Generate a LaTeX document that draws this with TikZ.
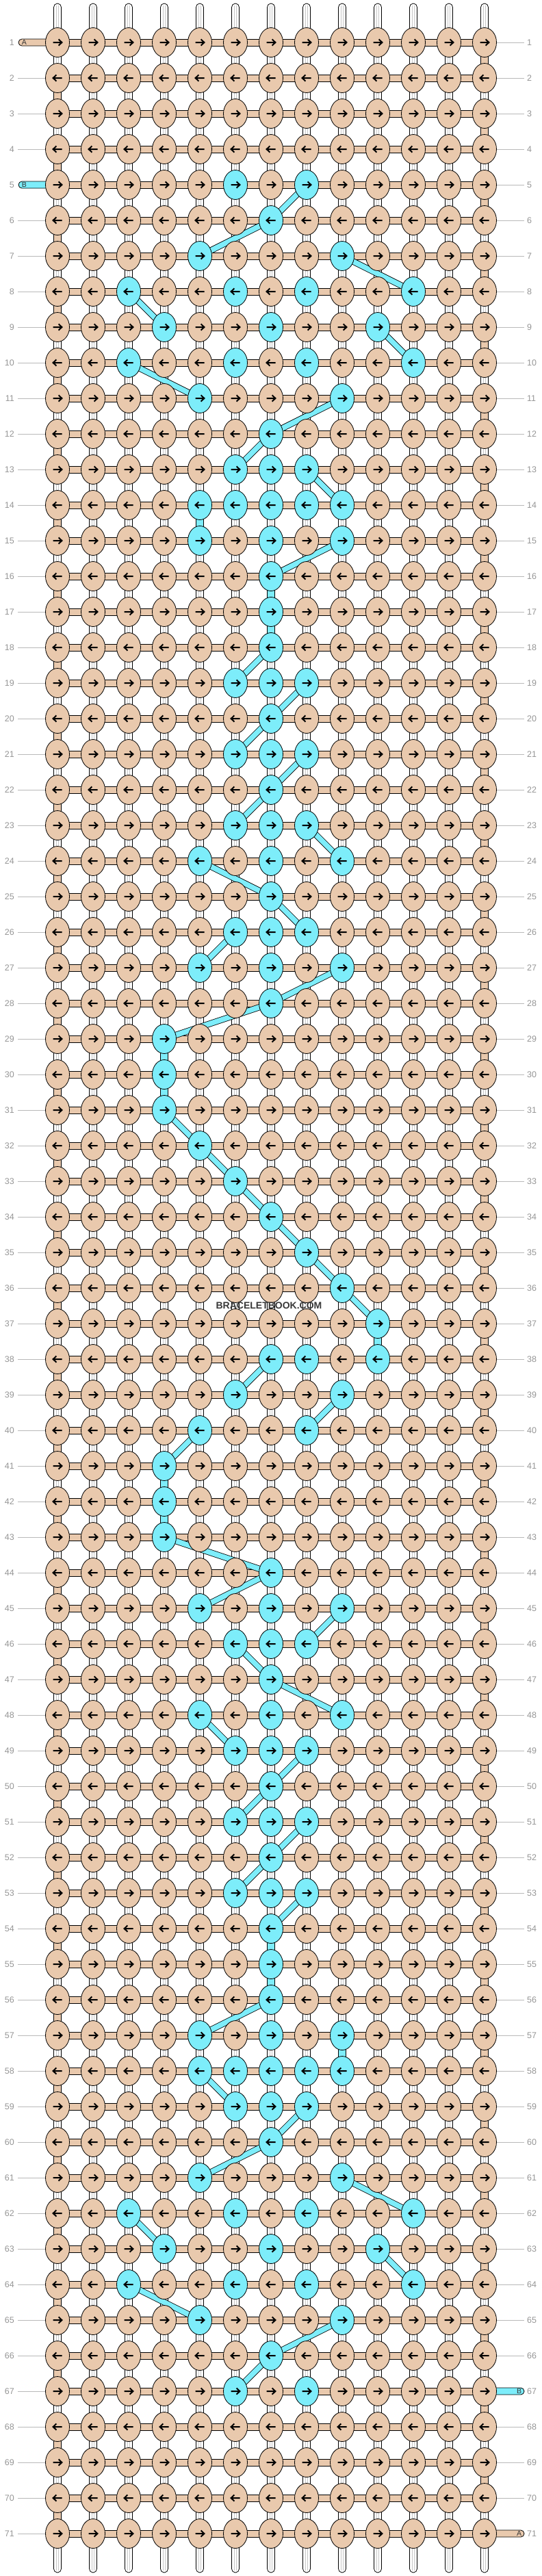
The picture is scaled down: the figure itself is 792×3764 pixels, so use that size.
\documentclass[tikz,border=0pt]{standalone}
\usepackage{fontspec}
\setmainfont{Liberation Sans}
\usetikzlibrary{shapes.geometric}
\definecolor{ktan}{RGB}{233,201,173}
\definecolor{kblue}{RGB}{125,237,250}
\definecolor{lblgray}{RGB}{150,150,150}
\definecolor{lnegray}{RGB}{185,185,185}
\pgfdeclarelayer{paper}
\pgfdeclarelayer{threads}
\pgfdeclarelayer{bars}
\pgfdeclarelayer{links}
\pgfsetlayers{paper,threads,bars,links,main}
\begin{document}
\begin{tikzpicture}[x=1pt,y=-1pt,
  knot/.style={ellipse,draw=black,line width=0.8,minimum width=35,minimum height=43,inner sep=0},
  arr/.style={line width=2,line cap=butt,line join=miter,draw=black},
  hbar/.style={draw=black,line width=0.8,fill=ktan},
  bbar/.style={draw=black,line width=0.8,fill=kblue},
  wthread/.style={draw=black,line width=0.8,fill=white},
  wline/.style={draw=gray!45,line width=0.7},
  bconn/.style={draw=black,line width=0.8,double=kblue,double distance=7.6},
  lbl/.style={inner sep=0,text=lblgray,font=\fontsize{12.5}{14}\selectfont},
  lline/.style={draw=lnegray,line width=1},
  stubtxt/.style={inner sep=0,text=black!80,font=\fontsize{10.5}{12}\selectfont},
  wmark/.style={inner sep=0,text=black!78,font=\bfseries\fontsize{14}{16}\selectfont}]
\useasboundingbox (0,0) rectangle (792,3764);
\begin{pgfonlayer}{paper}
\fill[white] (0,0) rectangle (792,3764);
\end{pgfonlayer}
% blue knots
\foreach \r/\c in {5/5,5/7,6/6,7/4,7/8,8/2,8/5,8/7,8/10,9/3,9/6,9/9,10/2,10/5,10/7,10/10,11/4,11/8,12/6,13/5,13/6,13/7,14/4,14/5,14/6,14/7,14/8,15/4,15/6,15/8,16/6,17/6,18/6,19/5,19/6,19/7,20/6,21/5,21/6,21/7,22/6,23/5,23/6,23/7,24/4,24/6,24/8,25/6,26/5,26/6,26/7,27/4,27/6,27/8,28/6,29/3,30/3,31/3,32/4,33/5,34/6,35/7,36/8,37/9,38/6,38/7,38/9,39/5,39/8,40/4,40/7,41/3,42/3,43/3,44/6,45/4,45/6,45/8,46/5,46/6,46/7,47/6,48/4,48/6,48/8,49/5,49/6,49/7,50/6,51/5,51/6,51/7,52/6,53/5,53/6,53/7,54/6,55/6,56/6,57/4,57/6,57/8,58/4,58/5,58/6,58/7,58/8,59/5,59/6,59/7,60/6,61/4,61/8,62/2,62/5,62/7,62/10,63/3,63/6,63/9,64/2,64/5,64/7,64/10,65/4,65/8,66/6,67/5,67/7}
  {\expandafter\gdef\csname bk\r-\c\endcsname{1}}
% knots
\foreach \r in {1,...,71}{
  \foreach \c in {0,...,12}{
    \ifcsname bk\r-\c\endcsname\def\kf{kblue}\else\def\kf{ktan}\fi
    \node[knot,fill=\kf] (k-\r-\c) at ({84+52*\c},{62+52*(\r-1)}) {};
    \ifodd\r\relax\def\sg{1}\else\def\sg{-1}\fi
    \begin{scope}[shift={(k-\r-\c.center)},xscale=\sg]
      \draw[arr] (-6.5,0)--(5.5,0) (1.6,-4.6)--(6.4,0)--(1.6,4.6);
    \end{scope}
  }
}
% row labels
\foreach \r in {1,...,71}{
  \node[lbl,anchor=east] (ll-\r) at (21,{62+52*(\r-1)}) {\r};
  \node[lbl,anchor=west] (lr-\r) at (770,{62+52*(\r-1)}) {\r};
}
% watermark
\node[wmark] (wm) at (393,1907.5) {BRACELETBOOK.COM};
% stub labels
\node[stubtxt] (sA1) at (35.5,62) {A};
\node[stubtxt] (sB1) at (35.5,270) {B};
\node[stubtxt] (sB2) at (758.5,3494) {B};
\node[stubtxt] (sA2) at (758.5,3702) {A};
% vertical warp threads
\begin{pgfonlayer}{threads}
\foreach \c in {0,...,12}{
  \coordinate (t-\c) at ({84+52*\c},5);
  \coordinate (b-\c) at ({84+52*\c},3759);
  \draw[wthread,rounded corners=5.5] ([xshift=-5.5]t-\c) rectangle ([xshift=5.5]b-\c);
  \draw[wline] ([shift={(-1.6,3)}]t-\c) -- ([shift={(-1.6,-3)}]b-\c);
  \draw[wline] ([shift={(1.6,3)}]t-\c) -- ([shift={(1.6,-3)}]b-\c);
}
\end{pgfonlayer}
\begin{pgfonlayer}{bars}
% horizontal working thread
\foreach \r in {1,...,71}{
  \draw[hbar] ([yshift=-5]k-\r-0.center) rectangle ([yshift=5]k-\r-12.center);
}
% turns at the edges
\foreach \r [evaluate=\r as \rr using int(\r+1)] in {2,4,...,70}{
  \draw[hbar] ([xshift=-5.5]k-\r-0.center) rectangle ([xshift=5.5]k-\rr-0.center);
}
\foreach \r [evaluate=\r as \rr using int(\r+1)] in {1,3,...,69}{
  \draw[hbar] ([xshift=-5.5]k-\r-12.center) rectangle ([xshift=5.5]k-\rr-12.center);
}
% vertical blue segments
\foreach \r/\c [evaluate=\r as \rr using int(\r+1)] in {14/4,16/6,17/6,29/3,30/3,37/9,41/3,42/3,54/6,55/6,57/8}{
  \draw[bbar] ([xshift=-5.5]k-\r-\c.center) rectangle ([xshift=5.5]k-\rr-\c.center);
}
% stubs
\draw[hbar,rounded corners=5] ([shift={(-8.5,-5)}]sA1.center) rectangle ([shift={(8,5)}]k-1-0.center);
\draw[bbar,rounded corners=5] ([shift={(-8.5,-5)}]sB1.center) rectangle ([shift={(8,5)}]k-5-0.center);
\draw[bbar,rounded corners=5] ([shift={(-8,-5)}]k-67-12.center) rectangle ([shift={(7.5,5)}]sB2.center);
\draw[hbar,rounded corners=5] ([shift={(-8,-5)}]k-71-12.center) rectangle ([shift={(7.5,5)}]sA2.center);
% label lines
\foreach \r in {1,...,71}{
  \ifnum\r=1\relax\else\ifnum\r=5\relax\else
    \draw[lline] ([xshift=5]ll-\r.east) -- (k-\r-0.west);
  \fi\fi
  \ifnum\r=67\relax\else\ifnum\r=71\relax\else
    \draw[lline] (k-\r-12.east) -- ([xshift=-4]lr-\r.west);
  \fi\fi
}
\end{pgfonlayer}
% blue thread path
\begin{pgfonlayer}{links}
\foreach \a/\b/\cc/\d in {5/7/6/6,6/6/7/4,7/8/8/10,8/2/9/3,9/9/10/10,10/2/11/4,11/8/12/6,12/6/13/5,13/7/14/8,15/8/16/6,18/6/19/5,19/7/20/6,20/6/21/5,21/7/22/6,22/6/23/5,23/7/24/8,24/4/25/6,25/6/26/7,26/5/27/4,27/8/28/6,28/6/29/3,31/3/32/4,32/4/33/5,33/5/34/6,34/6/35/7,35/7/36/8,36/8/37/9,38/6/39/5,39/8/40/7,40/4/41/3,43/3/44/6,44/6/45/4,45/8/46/7,46/5/47/6,47/6/48/8,48/4/49/5,49/7/50/6,50/6/51/5,51/7/52/6,52/6/53/5,53/7/54/6,56/6/57/4,58/4/59/5,59/7/60/6,60/6/61/4,61/8/62/10,62/2/63/3,63/9/64/10,64/2/65/4,65/8/66/6,66/6/67/5}{
  \draw[bconn] (k-\a-\b.center) -- (k-\cc-\d.center);
}
\end{pgfonlayer}
\end{tikzpicture}
\end{document}
